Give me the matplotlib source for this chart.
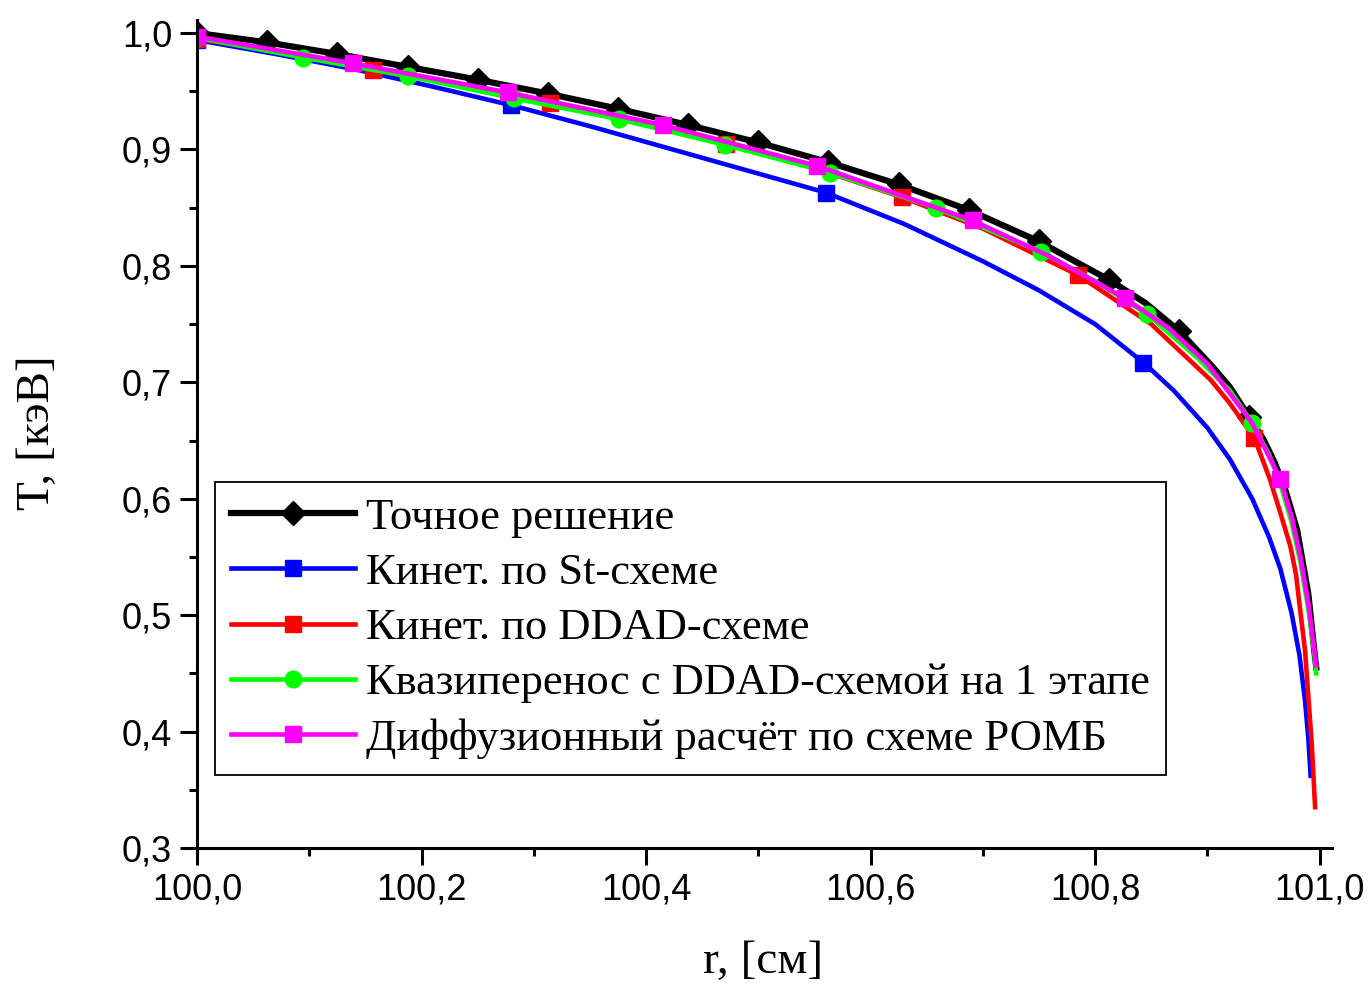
import numpy as np
import matplotlib
matplotlib.use('Agg')
import matplotlib.pyplot as plt

# exact solution
r_exact = [100.0, 100.0625, 100.125, 100.1875, 100.25, 100.3125, 100.375, 100.4375, 100.5,
           100.5625, 100.625, 100.6875, 100.75, 100.78, 100.8125, 100.845, 100.875, 100.905,
           100.92, 100.9375, 100.95, 100.96, 100.97, 100.98, 100.99, 100.995, 100.997]
T_exact = [1.000, 0.992, 0.982, 0.971, 0.960, 0.948, 0.935, 0.921, 0.906,
           0.889, 0.870, 0.848, 0.821, 0.805, 0.788, 0.768, 0.744, 0.713,
           0.696, 0.670, 0.651, 0.631, 0.606, 0.573, 0.518, 0.472, 0.455]
rm_exact = [100.0, 100.0625, 100.125, 100.1875, 100.25, 100.3125, 100.375, 100.4375, 100.5,
            100.5625, 100.625, 100.6875, 100.75, 100.8125, 100.875, 100.9375]

# kinetic, St scheme
r_st = [100.0, 100.07, 100.14, 100.21, 100.28, 100.35, 100.42, 100.49, 100.56, 100.63,
        100.70, 100.75, 100.80, 100.843, 100.87, 100.9, 100.92, 100.94, 100.955, 100.965,
        100.975, 100.982, 100.987, 100.99, 100.992]
T_st = [0.994, 0.982, 0.969, 0.954, 0.938, 0.920, 0.901, 0.882, 0.863, 0.836,
        0.804, 0.779, 0.750, 0.717, 0.693, 0.661, 0.634, 0.600, 0.567, 0.540,
        0.502, 0.466, 0.427, 0.394, 0.362]
rm_st = [100.0, 100.28, 100.56, 100.843]

# kinetic, DDAD scheme
r_ddad = [100.0, 100.08, 100.157, 100.235, 100.314, 100.39, 100.471, 100.55, 100.628, 100.7,
          100.785, 100.85, 100.903, 100.92, 100.942, 100.956, 100.965, 100.974, 100.979,
          100.983, 100.987, 100.990, 100.993, 100.996]
T_ddad = [0.995, 0.983, 0.968, 0.955, 0.940, 0.923, 0.905, 0.884, 0.859, 0.832,
          0.792, 0.750, 0.702, 0.682, 0.652, 0.616, 0.588, 0.559, 0.535,
          0.502, 0.470, 0.430, 0.390, 0.335]
rm_ddad = [100.0, 100.157, 100.314, 100.471, 100.628, 100.785, 100.942]

# quasi-transport
r_qt = [100.0, 100.094, 100.188, 100.282, 100.376, 100.47, 100.564, 100.658,
        100.752, 100.8, 100.846, 100.89, 100.92, 100.94, 100.955, 100.965, 100.975,
        100.983, 100.99, 100.995, 100.997]
T_qt = [0.996, 0.979, 0.963, 0.944, 0.926, 0.904, 0.880, 0.850,
        0.812, 0.787, 0.759, 0.722, 0.693, 0.665, 0.638, 0.613, 0.580,
        0.545, 0.505, 0.470, 0.450]
rm_qt = [100.0, 100.094, 100.188, 100.282, 100.376, 100.47, 100.564, 100.658,
         100.752, 100.846, 100.94]

# diffusion, ROMB scheme
r_diff = [100.0, 100.139, 100.277, 100.415, 100.552, 100.691, 100.76, 100.827, 100.865,
          100.9, 100.94, 100.965, 100.975, 100.983, 100.99, 100.997]
T_diff = [0.997, 0.974, 0.949, 0.921, 0.886, 0.839, 0.808, 0.772, 0.747,
          0.716, 0.665, 0.617, 0.585, 0.550, 0.510, 0.457]
rm_diff = [100.0, 100.139, 100.277, 100.415, 100.552, 100.691, 100.827, 100.965]

labels = ['Точное решение', 'Кинет. по St-схеме', 'Кинет. по DDAD-схеме',
          'Квазиперенос с DDAD-схемой на 1 этапе', 'Диффузионный расчёт по схеме РОМБ']

fig = plt.figure(figsize=(13.72, 9.86), dpi=100)
ax = fig.add_axes([0.1436, 0.1400, 0.8272, 0.8397])

series = [
    (r_exact, T_exact, rm_exact, 'black', 'D', 4.5, 12),
    (r_st, T_st, rm_st, '#0000ff', 's', 3.3, 12),
    (r_ddad, T_ddad, rm_ddad, '#ff0000', 's', 3.3, 12),
    (r_qt, T_qt, rm_qt, '#00ff00', 'o', 3.3, 12),
    (r_diff, T_diff, rm_diff, '#ff00ff', 's', 3.3, 12),
]
for (r, T, rm, c, m, lw, ms), lab in zip(series, labels):
    idx = [r.index(v) for v in rm]
    ax.plot(r, T, color=c, lw=lw, marker=m, ms=ms, markevery=idx, label=lab)

xt = [100.0, 100.2, 100.4, 100.6, 100.8, 101.0]
yt = [0.3, 0.4, 0.5, 0.6, 0.7, 0.8, 0.9, 1.0]
ax.set_xlim(100.0, 101.011)
ax.set_ylim(0.3, 1.0112)
ax.set_xticks(xt)
ax.set_xticks([100.1, 100.3, 100.5, 100.7, 100.9], minor=True)
ax.set_yticks(yt)
ax.set_yticks([0.35, 0.45, 0.55, 0.65, 0.75, 0.85, 0.95], minor=True)
ax.set_xticklabels([('%.1f' % v).replace('.', ',') for v in xt], family='Liberation Sans', fontsize=26)
ax.set_yticklabels([('%.1f' % v).replace('.', ',') for v in yt], family='Liberation Sans', fontsize=26)

for s in ['top', 'right']:
    ax.spines[s].set_visible(False)
for s in ['left', 'bottom']:
    ax.spines[s].set_linewidth(2.2)
ax.tick_params(which='major', direction='out', length=12, width=2.2, pad=6)
ax.tick_params(which='minor', direction='out', length=6, width=2.2)

ax.set_xlabel('r, [см]', family='Liberation Serif', fontsize=34)
ax.set_ylabel('T, [кэВ]', family='Liberation Serif', fontsize=34)
ax.xaxis.set_label_coords(0.4987, -0.138)
ax.yaxis.set_label_coords(-0.140, 0.502)
ax.xaxis.label.set_va('center')
ax.yaxis.label.set_va('center')

leg = ax.legend(loc='upper left', bbox_to_anchor=(215 / 1372, 1 - 482 / 986),
                bbox_transform=fig.transFigure, borderaxespad=0,
                prop={'family': 'Liberation Serif', 'size': 32},
                frameon=True, fancybox=False, framealpha=1, edgecolor='black',
                handlelength=2.8, handletextpad=0.25, labelspacing=0.34,
                borderpad=0.35)
leg.get_frame().set_linewidth(1.3)

fig.savefig('out.png', dpi=100)
